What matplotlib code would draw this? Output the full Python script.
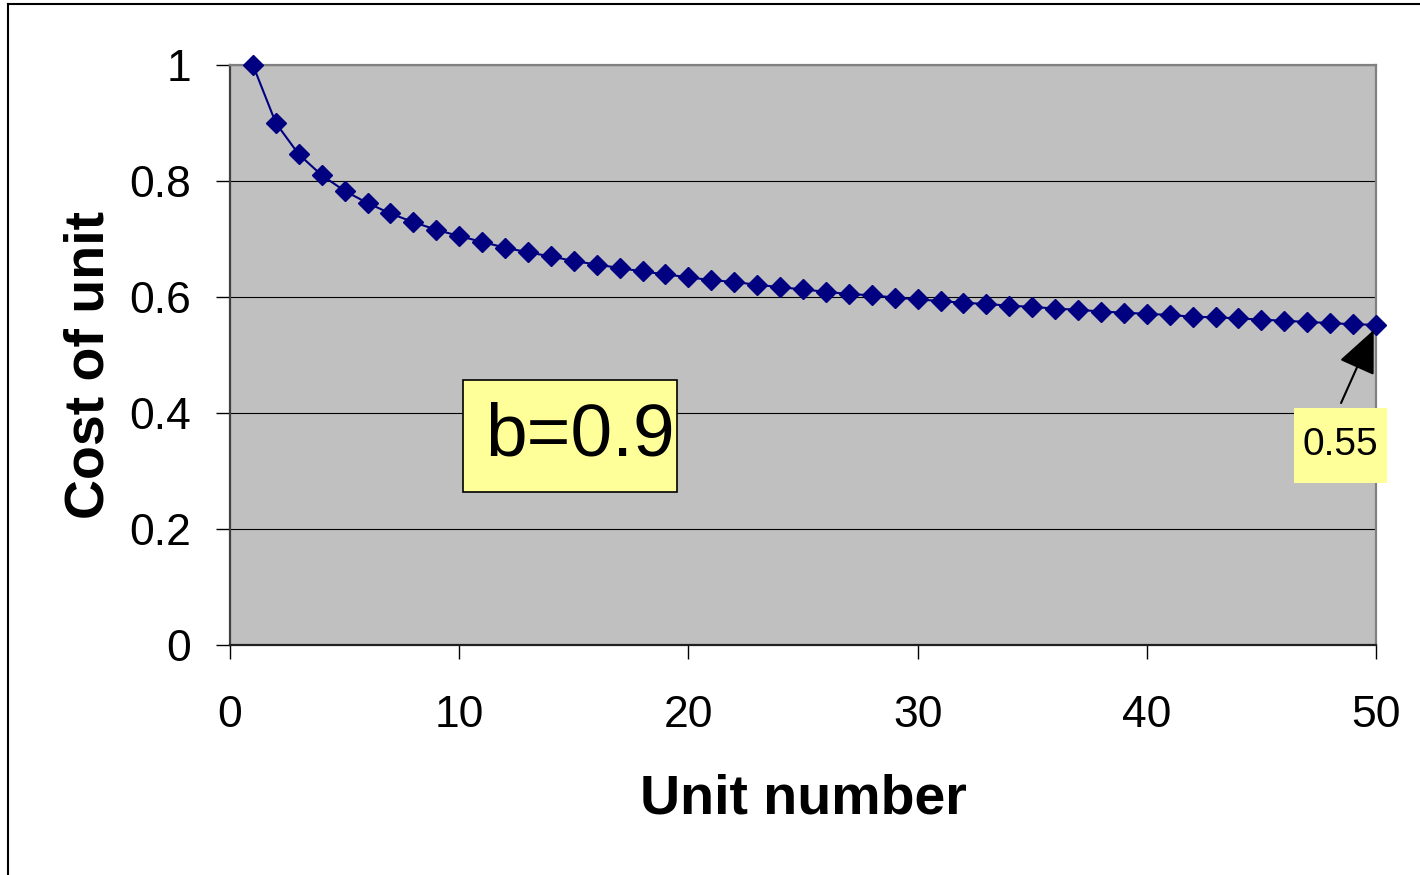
import matplotlib
matplotlib.use("Agg")
import matplotlib.pyplot as plt
from matplotlib.lines import Line2D
from matplotlib.patches import Rectangle

plt.rcParams['font.family'] = ['Liberation Sans', 'DejaVu Sans']

# unit number and cost of unit
units = list(range(1, 51))
cost = [1.000, 0.900, 0.846, 0.810, 0.783, 0.762, 0.744, 0.729, 0.716, 0.705,
        0.695, 0.685, 0.677, 0.670, 0.662, 0.656, 0.650, 0.644, 0.639, 0.634,
        0.629, 0.626, 0.621, 0.617, 0.613, 0.609, 0.605, 0.603, 0.599, 0.596,
        0.593, 0.590, 0.588, 0.585, 0.583, 0.580, 0.578, 0.575, 0.573, 0.571,
        0.569, 0.566, 0.565, 0.563, 0.561, 0.559, 0.557, 0.555, 0.553, 0.552]
xticks = [0, 10, 20, 30, 40, 50]
yticks = [0, 0.2, 0.4, 0.6, 0.8, 1.0]
ytick_labels = ["0", "0.2", "0.4", "0.6", "0.8", "1"]
last_label = "0.55"
b_label = "b=0.9"

fig = plt.figure(figsize=(14.2, 8.75), dpi=100)
ax = fig.add_axes([230/1420, 1 - 645/875, 1146/1420, 580/875])
ax.set_facecolor("#C0C0C0")

ax.plot(units, cost, color="#000080", lw=1.5, marker="D", ms=10,
        mec="#000080", mfc="#000080", clip_on=False, zorder=5)

ax.set_xlim(0, 50)
ax.set_ylim(0, 1)
ax.set_xticks(xticks)
ax.set_yticks(yticks)
ax.set_yticklabels(ytick_labels)
ax.yaxis.grid(True, color="black", lw=0.8)
ax.set_axisbelow(True)

ax.tick_params(axis="y", direction="out", length=10, width=1, pad=18, labelsize=32)
ax.tick_params(axis="x", direction="out", length=10, width=1, pad=26, labelsize=32)

for side in ["top", "right"]:
    ax.spines[side].set_color("#808080")
    ax.spines[side].set_linewidth(1.6)
ax.spines["left"].set_color("#404040")
ax.spines["left"].set_linewidth(1.6)
ax.spines["bottom"].set_color("#202020")
ax.spines["bottom"].set_linewidth(1.6)

ax.set_xlabel("Unit number", fontsize=40, fontweight="bold", labelpad=27)
ax.set_ylabel("Cost of unit", fontsize=40, fontweight="bold")
ax.yaxis.set_label_coords(-0.100, 0.483)

# "b=0.9" box
ax.add_patch(Rectangle((0.2033, 0.2638), 0.1867, 0.1931, transform=ax.transAxes,
                       fc="#FFFF99", ec="black", lw=1.2, zorder=6))
ax.text(0.3054, 0.360, b_label, transform=ax.transAxes, fontsize=54,
        ha="center", va="center", zorder=7)

# "0.55" label with arrow to the last point
ax.add_patch(Rectangle((0.9284, 0.2793), 0.0812, 0.1293, transform=ax.transAxes,
                       fc="#FFFF99", ec="none", clip_on=False, zorder=6))
ax.text(0.9686, 0.3448, last_label, transform=ax.transAxes, fontsize=28,
        ha="center", va="center", zorder=7)
ax.annotate("", xy=(units[-1], cost[-1]), xytext=(0.9695, 0.4172),
            textcoords="axes fraction", annotation_clip=False,
            arrowprops=dict(arrowstyle="-|>,head_length=0.9,head_width=0.4",
                            mutation_scale=30, color="black", lw=1.5,
                            shrinkA=0, shrinkB=4),
            zorder=7)

# outer frame (left and top edges only)
fig.add_artist(Line2D([8/1420, 8/1420], [0, 1 - 4/875], transform=fig.transFigure, color="black", lw=1.5))
fig.add_artist(Line2D([8/1420, 1], [1 - 4/875, 1 - 4/875], transform=fig.transFigure, color="black", lw=1.5))

fig.savefig("out.png", dpi=100)
